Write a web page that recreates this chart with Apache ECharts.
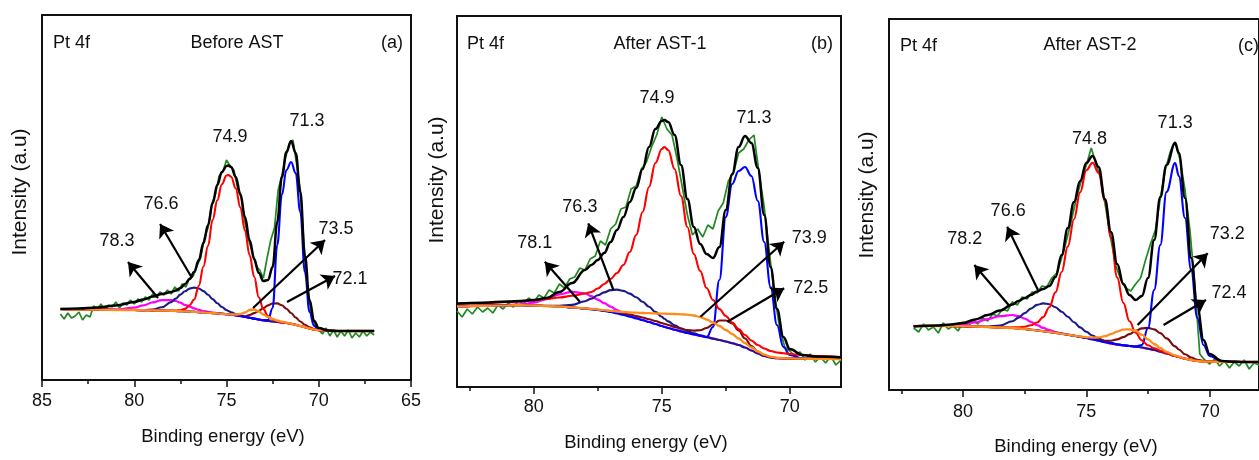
<!DOCTYPE html>
<html>
<head>
<meta charset="utf-8">
<script src="https://cdn.jsdelivr.net/npm/echarts@6/dist/echarts.min.js"></script>
<style>html,body{margin:0;padding:0;background:#fff;}#chart{width:1259px;height:460px;}</style>
</head>
<body>
<div id="chart"></div>
<script>
// ---------------- DATA (binding energy in eV, intensity in a.u.) ----------------
// Panel (a) Before AST
const eA = [84,83,82,81,80,79.5,79,78.5,78,77.75,77.5,77.25,77,76.75,76.5,76.25,76,75.75,75.5,75.25,75,74.9,74.75,74.5,74.25,74,73.75,73.5,73.25,73,72.75,72.5,72.25,72,71.75,71.5,71.25,71,70.75,70.5,70.25,70,69.5,69,68,67];
const blackA   = [71,71.5,72.5,74.5,78,80.5,83.5,86,88,89.5,92,96,101,108,120,137,155,177,195,208,214,214.5,213,203,186,163,140,121,107,99,100,113,158,203,228,239,227,188,124,80,59,52,49.5,49,49,49];
const redA     = [71,70.5,70.3,70,70,69.8,69.6,69.4,69.2,69.4,69.8,71.1,74.7,80.6,94.3,113.5,134.2,160.3,179.6,195.8,204.5,205,203.3,191.6,172.7,149.6,125,103.2,82.8,70.9,63.9,60.6,58.8,57.8,57.2,56.3,55.2,54,52.8,51.5,50.5,49.8,49.3,49,49,49];
const blueA    = [71,70.5,70.3,70,70,69.8,69.6,69.4,69.2,69,68.8,68.6,68.4,68.1,67.8,67.5,67.2,66.9,66.6,66.2,65.8,65.6,65.3,64.7,64,63.2,62.3,61.4,60.5,59.7,60,72,135,185,210,218,207,168,108,68,54,50,49.3,49,49,49];
const navyA    = [71,70.5,70.3,70,70,69.9,70.5,72.8,77.9,81.4,85.4,88.8,91.4,92.4,91.5,88.9,85.2,80.9,76.7,73,70,69,67.8,66,64.6,63.4,62.3,61.4,60.5,59.7,59,58.5,58,57.5,57,56.2,55.2,54,52.8,51.5,50.5,49.8,49.3,49,49,49];
const magentaA = [71,70.5,70.4,70.6,72.3,74.6,77.6,79.8,80,79,77.3,75.1,73.4,71.6,70.1,69,68.2,67.5,67,66.4,65.9,65.7,65.3,64.7,64,63.2,62.3,61.4,60.5,59.7,59,58.5,58,57.5,57,56.2,55.2,54,52.8,51.5,50.5,49.8,49.3,49,49,49];
const brownA   = [71,70.5,70.3,70,70,69.8,69.6,69.4,69.2,69,68.8,68.6,68.4,68.1,67.8,67.5,67.2,66.9,66.6,66.2,65.8,65.6,65.3,64.5,63.8,63.8,65,66.9,69.1,72,74.6,76.5,76.6,74.7,71.3,67,62.5,58.5,55.2,52.7,51,50,49.3,49,49,49];
const orangeA  = [71,70.5,70.3,70,70,69.8,69.6,69.4,69.2,69,68.8,68.6,68.4,68.1,67.8,67.5,67.2,66.9,66.6,66.2,65.8,65.6,65.5,65.5,66,67.5,70,70.5,68.5,65.5,63,61,59.5,58.3,57.3,56.4,55.2,54,52.8,51.5,50.5,49.8,49.3,49,49,49];
const greenA = [[84.0,66],[83.8,61],[83.6,67],[83.4,62],[83.2,64],[83.0,68],[82.8,60],[82.6,65],[82.4,63],[82.2,74],
  [82.0,71],[81.8,76],[81.6,70],[81.4,75],[81.2,73],[81.0,78],[80.8,72],[80.6,77],[80.4,75],[80.2,80],
  [80.0,76],[79.8,81],[79.6,78],[79.4,83],[79.2,80],[79.0,86],[78.8,83],[78.6,88],[78.4,85],[78.2,90],
  [78.0,86],[77.8,93],[77.6,89],[77.4,96],[77.2,93],[77.0,102],[76.8,104],[76.6,114],[76.4,122],[76.2,142],
  [76.0,152],[75.8,176],[75.6,186],[75.4,204],[75.2,208],[75.0,220],[74.8,214],[74.6,210],[74.4,192],[74.2,182],
  [74.0,158],[73.8,140],[73.6,128],[73.4,114],[73.2,110],[73.0,102],[72.8,122],[72.6,140],[72.4,152],[72.2,190],
  [72.0,204],[71.8,222],[71.6,236],[71.4,240],[71.2,216],[71.0,190],[70.8,136],[70.6,90],[70.4,66],[70.2,55],
  [70.0,50],[69.8,46],[69.6,52],[69.4,44],[69.2,50],[69.0,43],[68.8,49],[68.6,44],[68.4,50],[68.2,42],
  [68.0,47],[67.8,43],[67.6,49],[67.4,44],[67.2,48],[67.0,45]];

// Panel (b) After AST-1
const eB = [83,82,81,80.5,80,79.5,79,78.5,78,77.75,77.5,77.25,77,76.75,76.5,76.25,76,75.75,75.5,75.25,75,74.9,74.75,74.5,74.25,74,73.75,73.5,73.25,73,72.75,72.5,72.25,72,71.75,71.5,71.25,71,70.75,70.5,70.25,70,69.5,69,68];
const blackB   = [83.5,84.3,85.5,86,87,89,95,104,117,122,127,134,145,157,170,185,199,218,240,258,266,267,265,252,222,188,160,143,133,129,140,177,213,240,251,244,219,172,120,78,50,38,32,30.5,29.5];
const redB     = [83,83.8,85,85.8,86.8,88,89.5,91.2,93.5,95,98.5,103,108,114,122,135,152,175,200,224,238,240,237,218,191,160,133,116,99,87,78,71,64.5,58,52,46.5,42,38.5,36,34.5,33.7,33,32,31,30];
const blueB    = [80.5,81.2,81.7,81.8,81.5,81,80.5,79.5,78.5,77.8,77,76,75,73.5,72,70.3,68.6,66.8,65,63,61,60.2,59,57.3,55.6,54,52.6,51.2,49.8,60,107,170,203,216,220,211,186,145,100,62,40,32,28.5,28.2,28];
const navyB    = [80.5,81.2,81.7,81.8,81.5,81.2,81.2,82.1,85.8,88.4,91.7,94.6,96.9,97.4,96.1,93.4,89.7,85.2,80.3,75.1,70.2,68.2,65.6,61.8,58.6,55.9,53.7,51.8,50.1,48.4,47,45.5,43.8,42,39.5,36.5,33.5,31,29.5,28.8,28.6,28.5,28.3,28.2,28];
const magentaB = [80.5,81.2,81.9,82.7,84.4,87.9,92.7,95.2,93.5,90.8,87.4,83.8,80.4,76.9,74,71.4,69.2,67.1,65,63,61,60.2,59,57.3,55.6,54,52.6,51.2,49.8,48.4,47,45.5,43.8,42,39.5,36.5,33.5,31,29.5,28.8,28.6,28.5,28.3,28.2,28];
const brownB   = [80.5,81.2,81.7,81.8,81.5,81,80.5,79.5,78.5,77.9,77.2,76.4,75.6,74.6,73.6,72.4,71,69.5,67.8,66,64,63.2,62,60,58.2,57,56.4,56.8,59,62.5,66.5,66.5,63.5,56.5,48.5,41,35.5,32,30,29,28.7,28.5,28.3,28.2,28];
const orangeB  = [80.5,81.2,81.7,81.8,81.5,81,80.5,79.6,78.7,78.1,77.5,76.8,76.2,75.5,75,74.6,74.3,74,73.8,73.6,73.4,73.3,73.2,73,72.7,72.3,71.5,70,67.5,64.5,61,57,53,48.5,44,39.5,35.5,32.3,30.3,29.2,28.8,28.6,28.3,28.2,28];
const greenB = [[83.0,76],[82.8,70],[82.6,78],[82.4,73],[82.2,80],[82.0,75],[81.8,79],[81.6,74],[81.4,82],[81.2,78],
  [81.0,84],[80.8,80],[80.6,86],[80.4,83],[80.2,89],[80.0,85],[79.8,92],[79.6,89],[79.4,97],[79.2,94],
  [79.0,103],[78.8,99],[78.6,108],[78.4,110],[78.2,119],[78.0,117],[77.8,128],[77.6,131],[77.4,146],[77.2,142],
  [77.0,158],[76.8,163],[76.6,178],[76.4,180],[76.2,198],[76.0,201],[75.8,218],[75.6,225],[75.4,240],[75.2,252],
  [75.0,270],[74.8,258],[74.6,252],[74.4,228],[74.2,200],[74.0,172],[73.8,152],[73.6,158],[73.4,150],[73.2,162],
  [73.0,158],[72.8,176],[72.6,184],[72.4,206],[72.2,214],[72.0,234],[71.8,238],[71.6,247],[71.4,252],[71.2,214],
  [71.0,180],[70.8,135],[70.6,92],[70.4,60],[70.2,40],[70.0,36],[69.8,31],[69.6,35],[69.4,27],[69.2,33],
  [69.0,25],[68.8,30],[68.6,24],[68.4,31],[68.2,22],[68.0,27]];

// Panel (c) After AST-2
const eC = [82,81,80.5,80,79.5,79,78.5,78,77.75,77.5,77.25,77,76.75,76.5,76.25,76,75.75,75.5,75.25,75,74.75,74.5,74.25,74,73.75,73.5,73.25,73,72.75,72.5,72.25,72,71.75,71.4,71.25,71,70.75,70.5,70.25,70,69.5,69,68.5,68];
const blackC   = [63.5,64.5,65.5,67,70.5,75,79.5,85.5,89,92,95,98.5,101,104,113,135,162,188,209,227,234,223,191,158,126,106,95,90,94,112,150,193,225,247,237,192,132,83,50,36,29,28.2,28,28];
const redC     = [64,64,64,63.8,63.5,63,62.5,62.6,62.7,63.3,64.7,67.5,72.9,82.7,97.7,118,143.6,170.8,197.9,219.7,227.2,217,189,152.4,112.6,87.1,68.7,57.2,49.6,44.8,41.8,39.3,36.9,34,33,31.3,30,29,28.5,28.3,28.2,28.1,28,28];
const blueC    = [64,64,64,63.8,63.5,63,62.5,62,61.5,61,60.3,59.6,58.8,58,57.1,56.2,55.3,54.3,53.2,52,50.7,49.3,47.8,46.5,45.5,44.7,44,43.4,45,62,100,145,198,227,214,172,120,72,45,34,28.5,28.1,28,28];
const navyC    = [64,64,64,63.8,63.5,63.4,64.4,68.7,72.4,76.9,81.4,85.1,86.6,85.7,82.7,78.3,73.2,67.8,62.6,58.2,54.5,51.5,48.9,47.1,45.8,44.7,44,43.4,42.5,41.3,40,38.4,36.5,34,33,31.3,30,29,28.5,28.3,28.2,28.1,28,28];
const magentaC = [64,64.1,64.6,65.6,67.7,70.9,73.9,75,73.8,71.4,68.2,64.9,62.1,59.8,58,56.6,55.4,54.3,53.2,52,50.7,49.3,47.8,46.5,45.5,44.7,44,43.4,42.5,41.3,40,38.4,36.5,34,33,31.3,30,29,28.5,28.3,28.2,28.1,28,28];
const brownC   = [64,64,64,63.8,63.5,63,62.5,62,61.5,61,60.3,59.6,58.8,58,57.1,56.2,55.3,54.3,53.2,52,51,50,49.2,49.3,50.6,52.9,55.9,59.3,61.6,62.1,60.6,56.9,51.6,43.6,40.5,35.8,32.5,30.3,29.1,28.5,28.2,28.1,28,28];
const orangeC  = [64,64,64,63.8,63.5,63,62.5,62,61.5,61,60.3,59.6,58.8,58,57.1,56.2,55.3,54.3,53.5,52.7,52.4,52.7,53.8,55.9,58.4,60.4,60.7,59.1,55.4,50.7,46,41.8,38.2,34.5,33.3,31.3,30,29,28.5,28.3,28.2,28.1,28,28];
const greenC = [[82.0,62],[81.8,58],[81.6,66],[81.4,60],[81.2,63],[81.0,57],[80.8,67],[80.6,61],[80.4,64],[80.2,59],
  [80.0,68],[79.8,63],[79.6,70],[79.4,66],[79.2,72],[79.0,69],[78.8,76],[78.6,74],[78.4,81],[78.2,79],
  [78.0,88],[77.8,85],[77.6,93],[77.4,91],[77.2,98],[77.0,97],[76.8,104],[76.6,103],[76.4,112],[76.2,117],
  [76.0,132],[75.8,150],[75.6,170],[75.4,192],[75.2,210],[75.0,225],[74.8,242],[74.6,226],[74.4,210],[74.2,180],
  [74.0,150],[73.8,124],[73.6,110],[73.4,102],[73.2,99],[73.0,106],[72.8,112],[72.6,130],[72.4,146],[72.2,160],
  [72.0,192],[71.8,220],[71.6,238],[71.4,248],[71.2,230],[71.0,200],[70.8,160],[70.6,104],[70.4,36],[70.2,30],
  [70.0,26],[69.8,31],[69.6,24],[69.4,29],[69.2,22],[69.0,28],[68.8,24],[68.6,30],[68.4,21],[68.2,27],[68.0,25]];

// Axis ticks
const majorTicksA = [85,80,75,70,65];
const minorTicksA = [82.5,77.5,72.5,67.5];
const majorTicksBC = [80,75,70];
const minorTicksBC = [82.5,77.5,72.5];

// Peak annotations
const peakLabelsA = [['74.9',74.81,243],['71.3',70.64,259],['76.6',78.55,176],['78.3',80.93,139],['73.5',69.07,151],['72.1',68.31,101]];
const arrowsA = [[78.71,82,80.34,118],[76.87,102,78.6,156],[73.56,72,69.66,140],[71.72,78,69.12,104]];
const peakLabelsB = [['78.1',79.96,143.7],['76.3',78.2,180.3],['74.9',75.19,288.7],['71.3',71.4,268.7],['73.9',69.24,148.7],['72.5',69.18,98.7]];
const arrowsB = [[78.2,85.3,79.57,125.3],[76.89,97,77.87,163.7],[73.49,70.3,70.22,145.3],[72.44,65.3,70.22,98.7]];
const peakLabelsC = [['78.2',79.93,150.7],['76.6',78.17,179.3],['74.8',74.87,250.7],['71.3',71.4,267.3],['73.2',69.29,155.7],['72.4',69.22,97.3]];
const arrowsC = [[78.15,85,79.54,125],[76.96,100,78.21,163.3],[72.92,65,70.08,136.7],[71.87,65,70.15,90]];

const titles = [['Pt 4f','Before AST','(a)'],['Pt 4f','After AST-1','(b)'],['Pt 4f','After AST-2','(c)']];
const xTitle = 'Binding energy (eV)';
const yTitle = 'Intensity (a.u)';

// ---------------- CHART ----------------
const FONT = 'Arial, "Liberation Sans", Helvetica, sans-serif';
const COL = {green:'#1f8a1f', black:'#000000', red:'#ff0000', blue:'#0000ff', navy:'#1a1a8a', magenta:'#ff00ff', brown:'#7a0c0c', orange:'#ff8c1a'};
const zip = (xs, ys) => xs.map((x, i) => [x, ys[i]]);

const panels = [
  {grid:{left:42, top:15, width:369, height:365}, min:65, max:85, major:majorTicksA, minor:minorTicksA, margin:12,
   e:eA, black:blackA, red:redA, blue:blueA, navy:navyA, magenta:magentaA, brown:brownA, orange:orangeA, green:greenA,
   labels:peakLabelsA, arrows:arrowsA,
   text:{pt:[53,43], title:[237,43], tag:[392,43,'center'], xt:[223,437], yt:[20,192]}},
  {grid:{left:457, top:16, width:384, height:371}, min:68, max:83, major:majorTicksBC, minor:minorTicksBC, margin:11,
   e:eB, black:blackB, red:redB, blue:blueB, navy:navyB, magenta:magentaB, brown:brownB, orange:orangeB, green:greenB,
   labels:peakLabelsB, arrows:arrowsB,
   text:{pt:[467,44], title:[660,44], tag:[822,44,'center'], xt:[646,443], yt:[437,180]}},
  {grid:{left:889, top:19, width:378.4, height:371}, min:68, max:83, major:majorTicksBC, minor:minorTicksBC, margin:13,
   e:eC, black:blackC, red:redC, blue:blueC, navy:navyC, magenta:magentaC, brown:brownC, orange:orangeC, green:greenC,
   labels:peakLabelsC, arrows:arrowsC,
   text:{pt:[900,46], title:[1090,45], tag:[1238,46,'left'], xt:[1076,447], yt:[867,195]}}
];

const grids = [], xAxes = [], yAxes = [], series = [], graphics = [];
panels.forEach((p, i) => {
  grids.push(Object.assign({show:true, borderColor:'#111', borderWidth:2, backgroundColor:'rgba(0,0,0,0)'}, p.grid));
  const baseX = {type:'value', gridIndex:i, min:p.min, max:p.max, inverse:true, position:'bottom',
    axisLine:{show:false}, splitLine:{show:false}};
  xAxes.push(Object.assign({}, baseX, {
    axisTick:{show:true, inside:false, length:7, lineStyle:{color:'#111', width:1.5}, customValues:p.major},
    axisLabel:{show:true, customValues:p.major, margin:p.margin, fontSize:18, color:'#111', fontFamily:FONT}
  }));
  xAxes.push(Object.assign({}, baseX, {
    axisTick:{show:true, inside:false, length:4, lineStyle:{color:'#111', width:1.5}, customValues:p.minor},
    axisLabel:{show:false}
  }));
  yAxes.push({type:'value', gridIndex:i, min:0, max:p.grid.height, show:false});

  const mk = (name, data, color, width, smooth, extra) => Object.assign({
    type:'line', name, xAxisIndex:2*i, yAxisIndex:i, data, symbol:'none', showSymbol:false,
    smooth, smoothMonotone:'x', silent:true, animation:false,
    lineStyle:{color, width}, emphasis:{disabled:true}
  }, extra || {});
  series.push(mk('raw', p.green, COL.green, 1.7, false));
  series.push(mk('magenta', zip(p.e, p.magenta), COL.magenta, 2.2, 0.4));
  series.push(mk('navy', zip(p.e, p.navy), COL.navy, 2.1, 0.4));
  series.push(mk('brown', zip(p.e, p.brown), COL.brown, 2.1, 0.4));
  series.push(mk('blue', zip(p.e, p.blue), COL.blue, 2.1, 0.4));
  series.push(mk('red', zip(p.e, p.red), COL.red, 2.1, 0.4));
  series.push(mk('orange', zip(p.e, p.orange), COL.orange, 2.3, 0.4));
  series.push(mk('fit', zip(p.e, p.black), COL.black, 2.5, 0.4, {
    markLine:{silent:true, symbol:['none','arrow'], symbolSize:13, animation:false,
      lineStyle:{color:'#000', width:2.2, type:'solid'}, label:{show:false}, emphasis:{disabled:true},
      data:p.arrows.map(a => [{coord:[a[0], a[1]]}, {coord:[a[2], a[3]]}])},
    markPoint:{silent:true, symbol:'circle', symbolSize:0, animation:false,
      label:{show:true, position:'inside', formatter:'{b}', fontSize:18, color:'#111', fontFamily:FONT},
      data:p.labels.map(l => ({name:l[0], coord:[l[1], l[2]]}))}
  }));

  const t = p.text, tt = titles[i];
  const txt = (x, y, text, align, size, rot) => ({type:'text', x, y, rotation:rot || 0, silent:true,
    style:{text, fill:'#111', font:size + 'px ' + FONT, align, verticalAlign:'middle', textAlign:align, textVerticalAlign:'middle'}});
  graphics.push(txt(t.pt[0], t.pt[1], tt[0], 'left', 18));
  graphics.push(txt(t.title[0], t.title[1], tt[1], 'center', 18));
  graphics.push(txt(t.tag[0], t.tag[1], tt[2], t.tag[2], 18));
  graphics.push(txt(t.xt[0], t.xt[1], xTitle, 'center', 18.5));
  graphics.push(txt(t.yt[0], t.yt[1], yTitle, 'center', 21, Math.PI / 2));
});

const chart = echarts.init(document.getElementById('chart'), null, {renderer:'canvas'});
chart.setOption({
  backgroundColor:'#ffffff', animation:false,
  grid:grids, xAxis:xAxes, yAxis:yAxes, series, graphic:graphics
});
</script>
</body>
</html>
